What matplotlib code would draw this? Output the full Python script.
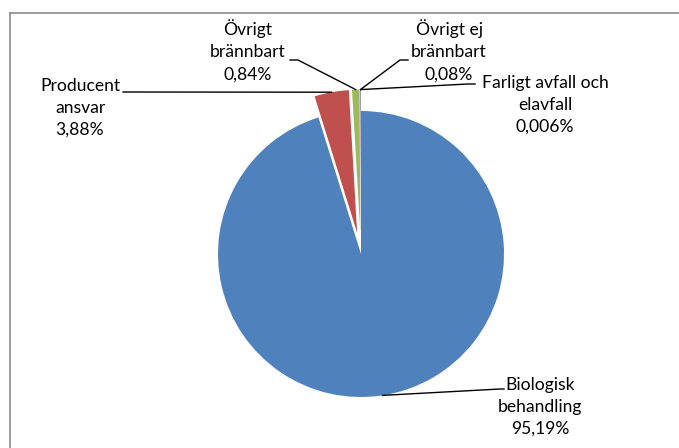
import matplotlib.pyplot as plt
from matplotlib.lines import Line2D
import numpy as np

plt.rcParams['font.family'] = ['Lato', 'DejaVu Sans']

labels = ['Biologisk\nbehandling', 'Producent\nansvar', 'Övrigt\nbrännbart',
          'Övrigt ej\nbrännbart', 'Farligt avfall och\nelavfall']
values = [95.19, 3.88, 0.84, 0.08, 0.006]
value_text = ['95,19%', '3,88%', '0,84%', '0,08%', '0,006%']
colors = ['#4F81BD', '#C0504D', '#9BBB59', '#8064A2', '#4BACC6']

W, H = 679, 448
CX, CY, R = 361, 254, 143  # pie centre / radius in image pixels


def px(x, y):
    # image pixel coords -> axes units (radius = 1, centre = 0,0)
    return (x - CX) / R, (CY - y) / R


fig = plt.figure(figsize=(W / 100, H / 100), dpi=100)
ax = fig.add_axes([0, 0, 1, 1])

wedges, _ = ax.pie(values, colors=colors, startangle=90, counterclock=False,
                   explode=[0, 0.15, 0.15, 0.15, 0.15], radius=1,
                   wedgeprops=dict(linewidth=0))

# pie() resets the limits, so set them afterwards
ax.set_aspect('auto')
ax.set_xlim(px(0, 0)[0], px(W, 0)[0])
ax.set_ylim(px(0, H)[1], px(0, 0)[1])
ax.axis('off')

# label block centre (image px) and leader start/knee (image px)
label_pos = [(80, 108), (248, 51), (449, 51), (545, 105), (540, 407)]
label_pos = [label_pos[4]] + label_pos[:4]
leader_pts = [[(504, 389), (500, 389)],
              [(123, 92), (126, 92)],
              [(290, 60), (298, 60)],
              [(408, 60), (400, 60)],
              [(475, 84), (468, 84)]]

for w, lab, vt, (lx, ly), pts in zip(wedges, labels, value_text, label_pos, leader_pts):
    ax.text(*px(lx, ly), lab + '\n' + vt, ha='center', va='center',
            fontsize=12.6, linespacing=1.47, color='#000000')
    th = np.deg2rad((w.theta1 + w.theta2) / 2)
    ex = w.center[0] + w.r * np.cos(th)
    ey = w.center[1] + w.r * np.sin(th)
    xs = [px(*p)[0] for p in pts] + [ex]
    ys = [px(*p)[1] for p in pts] + [ey]
    ax.plot(xs, ys, color='black', linewidth=1)

# chart area border (only top and left edges visible)
fig.add_artist(Line2D([10 / W, 1], [1 - 13 / H, 1 - 13 / H], transform=fig.transFigure,
                      color='#8c8c8c', linewidth=1.2))
fig.add_artist(Line2D([10 / W, 10 / W], [0, 1 - 13 / H], transform=fig.transFigure,
                      color='#8c8c8c', linewidth=1.2))

fig.savefig('out.png', dpi=100)
